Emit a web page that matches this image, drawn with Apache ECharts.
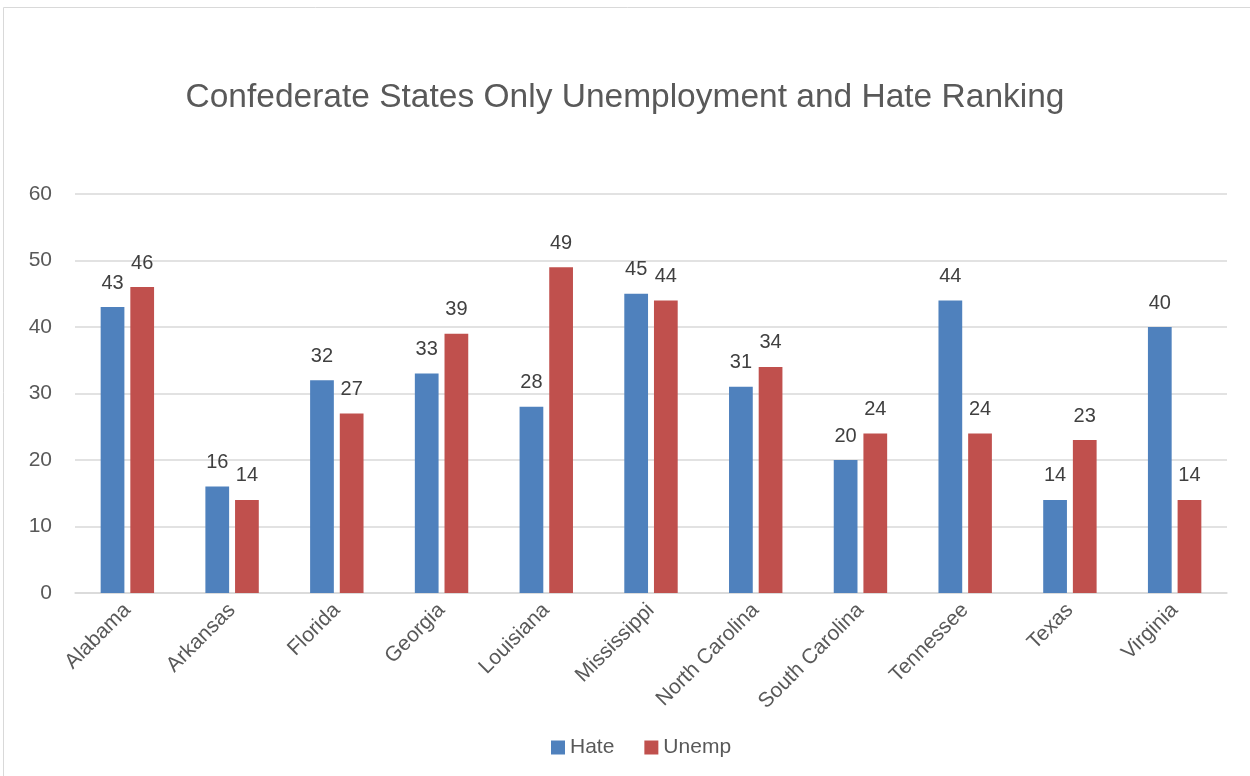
<!DOCTYPE html>
<html><head><meta charset="utf-8">
<script src="https://cdn.jsdelivr.net/npm/echarts@6/dist/echarts.min.js"></script>
<style>html,body{margin:0;padding:0;background:#fff}#c{width:1250px;height:776px}</style>
</head><body><div id="c"></div>
<script>
const categories = ['Alabama','Arkansas','Florida','Georgia','Louisiana','Mississippi','North Carolina','South Carolina','Tennessee','Texas','Virginia'];
const hate = [43,16,32,33,28,45,31,20,44,14,40];
const unemp = [46,14,27,39,49,44,34,24,24,23,14];
const yTicks = [0,10,20,30,40,50,60];
const FONT = "'Liberation Sans', Arial, sans-serif";
const chart = echarts.init(document.getElementById('c'), null, {renderer:'canvas'});
const lbl = {show:true, position:'top', distance:14, color:'#404040', fontSize:20, fontFamily:FONT};
chart.setOption({
  animation:false,
  graphic:[{type:'rect', shape:{x:3.5,y:7.5,width:1260,height:790}, style:{fill:'none', stroke:'#d9d9d9', lineWidth:1}, silent:true}],
  title:{text:'Confederate States Only Unemployment and Hate Ranking', left:'center', top:76,
    textStyle:{fontFamily:FONT, fontSize:33.5, fontWeight:'normal', color:'#595959'}},
  legend:{bottom:13, left:546, itemWidth:14, itemHeight:14, itemGap:30,
    icon:'rect', textStyle:{fontFamily:FONT, fontSize:21, color:'#595959'},
    data:['Hate','Unemp']},
  grid:{left:75, right:23, top:194, bottom:183, containLabel:false},
  xAxis:{type:'category', data:categories,
    axisLine:{lineStyle:{color:'#d9d9d9', width:1.5}}, axisTick:{show:false},
    axisLabel:{rotate:45, interval:0, fontFamily:FONT, fontSize:21, color:'#595959', margin:14}},
  yAxis:{type:'value', min:yTicks[0], max:yTicks[yTicks.length-1], interval:10,
    axisLine:{show:false}, axisTick:{show:false},
    splitLine:{lineStyle:{color:'#d9d9d9', width:1.5}},
    axisLabel:{fontFamily:FONT, fontSize:21, color:'#595959', margin:23}},
  series:[
    {name:'Hate', type:'bar', data:hate, itemStyle:{color:'#4f81bd'}, barGap:'25%', barCategoryGap:'49%', label:lbl},
    {name:'Unemp', type:'bar', data:unemp, itemStyle:{color:'#c0504d'}, label:lbl}
  ]
});
</script></body></html>
